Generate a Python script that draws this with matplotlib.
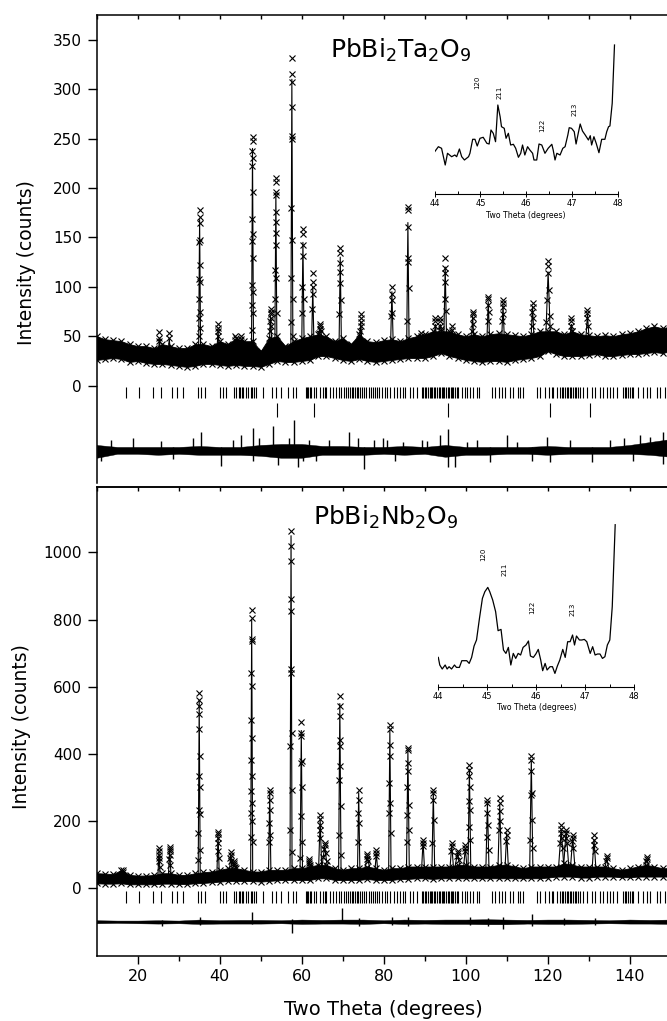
import matplotlib.pyplot as plt
import numpy as np

plt.rcParams["font.family"] = "DejaVu Sans"
plt.rcParams["mathtext.default"] = "regular"

# ---------------- PbBi2Ta2O9 (top panel) ----------------
bg_x = list(range(10, 151, 2))
ta_bg_hi = [50, 47, 46, 45, 42, 40, 40, 38, 42, 40, 38, 38, 42, 42, 40, 45, 42, 48,
            45, 45, 35, 48, 50, 40, 45, 48, 50, 52, 50, 45, 48, 42, 52, 45, 44, 46,
            47, 45, 48, 50, 52, 55, 55, 55, 52, 50, 52, 50, 52, 53, 52, 51, 50, 52,
            55, 55, 55, 52, 55, 52, 51, 50, 51, 50, 52, 53, 55, 58, 60, 58, 60]
ta_bg_lo = [26, 27, 28, 27, 24, 25, 23, 22, 22, 21, 20, 19, 20, 22, 22, 21, 20, 21,
            20, 20, 19, 22, 25, 24, 24, 25, 26, 30, 30, 28, 26, 25, 27, 25, 24, 25,
            26, 27, 28, 28, 28, 30, 33, 30, 28, 26, 25, 24, 25, 25, 24, 26, 27, 28,
            30, 35, 32, 30, 30, 30, 31, 32, 30, 30, 31, 32, 32, 33, 34, 33, 35]

ta_peak_pos = [25.3, 27.7, 35.1, 39.6, 43.7, 45.3, 48.0, 52.4, 53.7, 57.6, 60.3,
               62.7, 64.5, 69.4, 74.4, 82.0, 85.9, 89.0, 92.6, 93.8, 95.0, 96.7,
               101.7, 105.5, 109.1, 116.3, 120.1, 125.8, 129.7]
ta_peak_calc = [48, 48, 168, 57, 46, 46, 240, 70, 195, 310, 145, 100, 58, 130, 65,
                95, 165, 50, 62, 62, 120, 56, 70, 85, 82, 80, 115, 62, 72]
ta_peak_hw = [0.3, 0.3, 0.25, 0.3, 0.3, 0.3, 0.25, 0.4, 0.25, 0.25, 0.3, 0.3, 0.9,
              0.3, 0.35, 0.35, 0.3, 0.4, 0.4, 0.8, 0.35, 0.4, 0.4, 0.4, 0.4, 0.45,
              0.6, 0.6, 0.5]
ta_peak_obs = [
    [54, 48, 45], [53, 48],
    [178, 171, 165, 147, 145, 122, 108, 105, 88, 75, 68, 58, 50],
    [62, 58, 55, 50], [50, 46], [50, 47],
    [252, 248, 237, 230, 222, 196, 169, 153, 146, 129, 102, 95, 82, 73, 56],
    [78, 75, 72, 68, 65, 60, 55],
    [210, 206, 196, 193, 176, 166, 154, 142, 117, 109, 88, 73],
    [332, 315, 307, 282, 253, 250, 180, 147, 109, 88, 64, 50],
    [158, 153, 142, 131, 100, 88, 73],
    [114, 105, 100, 93, 78],
    [62, 60, 57, 55, 53],
    [139, 134, 124, 115, 104, 87, 72],
    [72, 68, 64, 60, 55],
    [100, 93, 87, 73, 70],
    [181, 178, 161, 129, 125, 99, 65],
    [53, 50, 48], [68, 65, 60], [68, 65, 60, 57],
    [129, 119, 114, 105, 88, 76],
    [60, 56],
    [75, 72, 68, 62, 55],
    [90, 88, 82, 75, 65],
    [87, 84, 80, 72, 65],
    [84, 80, 75, 68, 60],
    [126, 121, 114, 97, 87, 70, 64, 60],
    [68, 65, 60, 55],
    [77, 73, 68, 60],
]

res_x = list(range(10, 151, 5))
ta_res_hi = [-60, -62, -62, -62, -62, -61, -62, -62, -60, -59, -59, -61, -61, -62, -62,
             -61, -62, -60, -62, -62, -62, -62, -61, -62, -62, -62, -60, -57, -54]
ta_res_lo = [-73, -69, -69, -70, -69, -70, -70, -70, -71, -73, -73, -70, -70, -70, -69,
             -70, -69, -72, -70, -70, -69, -69, -70, -69, -69, -69, -69, -70, -72]
ta_spike_x = [11.0, 13.5, 18.8, 25.7, 28.5, 33.4, 35.4, 40.3, 43.2, 45.2, 48.0, 49.7,
              52.9, 54.1, 57.0, 58.2, 59.0, 60.2, 61.9, 63.5, 66.7, 71.6, 73.7, 75.3,
              77.7, 79.8, 80.7, 82.8, 84.8, 89.3, 90.5, 93.7, 95.8, 97.4, 100.2, 102.7,
              105.9, 110.0, 112.4, 116.1, 119.8, 120.6, 125.4, 130.7, 135.2, 138.5,
              140.9, 142.5, 145.0, 148.2]
ta_spike_top = [-62, -55, -53, -56, -62, -53, -47, -62, -55, -50, -43, -53, -41, -62,
                -53, -35, -62, -62, -55, -62, -55, -47, -53, -62, -55, -53, -55, -62,
                -57, -55, -56, -50, -44, -62, -57, -55, -62, -50, -57, -62, -52, -62,
                -55, -62, -55, -53, -62, -50, -52, -47]
ta_spike_bot = [-76, -68, -68, -68, -74, -68, -68, -81, -68, -68, -76, -68, -68, -80,
                -68, -72, -82, -76, -68, -76, -68, -68, -68, -84, -68, -68, -68, -76,
                -68, -68, -68, -68, -82, -82, -68, -68, -77, -68, -68, -76, -68, -77,
                -68, -77, -68, -68, -76, -68, -68, -79]

hkl_main = [17.1, 20.2, 23.7, 25.7, 28.4, 29.6, 31.0, 34.6, 35.4, 36.3, 40.1, 40.7,
            41.5, 43.6, 43.9, 44.6, 45.0, 45.4, 45.8, 46.4, 47.0, 47.6, 47.9, 48.3,
            48.9, 50.5, 52.8, 53.7, 55.0, 56.6, 57.8, 58.6, 61.0, 61.3, 61.6, 62.0,
            62.3, 63.0, 63.6, 64.4, 65.2, 65.6, 66.0, 66.8, 67.6, 68.4, 69.0, 69.6,
            70.2, 70.8, 71.4, 71.8, 72.2, 72.6, 73.0, 73.4, 73.8, 74.2, 74.6, 75.2,
            75.8, 76.3, 76.8, 77.3, 77.8, 78.3, 78.8, 79.6, 80.3, 80.8, 81.5, 82.4,
            83.2, 84.0, 84.6, 85.2, 86.3, 87.1, 88.2, 89.3, 89.7, 90.1, 90.4, 90.8,
            91.2, 91.5, 91.9, 92.3, 92.6, 93.0, 93.4, 93.7, 94.1, 94.5, 94.8, 95.2,
            95.6, 95.9, 96.3, 96.7, 97.0, 97.4, 97.8, 98.2, 99.0, 99.8, 100.4, 101.1,
            101.9, 102.7, 103.3, 106.3, 107.1, 108.0, 108.8, 109.6, 110.8, 111.6,
            112.8, 113.2, 113.9, 117.3, 118.1, 119.3, 120.2, 121.0, 121.4, 122.2,
            123.0, 123.4, 123.8, 124.2, 124.6, 125.0, 125.4, 125.8, 126.2, 126.6,
            127.0, 127.4, 127.9, 128.7, 129.5, 130.7, 131.5, 132.8, 133.6, 134.4,
            135.2, 136.0, 136.8, 138.4, 138.8, 139.2, 139.6, 140.0, 140.5, 140.9,
            142.1, 143.3, 144.1, 144.9, 146.6, 147.4, 148.6]
hkl_second = [53.9, 63.1, 95.6, 120.6, 130.4]

ta_in_x = [44.00, 44.08, 44.15, 44.23, 44.28, 44.37, 44.44, 44.48, 44.54, 44.59, 44.65,
           44.74, 44.77, 44.83, 44.88, 44.93, 44.99, 45.06, 45.14, 45.19, 45.23, 45.28,
           45.33, 45.38, 45.43, 45.46, 45.52, 45.56, 45.61, 45.66, 45.72, 45.77, 45.83,
           45.88, 45.92, 45.97, 46.03, 46.08, 46.14, 46.17, 46.23, 46.28, 46.34, 46.41,
           46.48, 46.56, 46.59, 46.63, 46.67, 46.74, 46.80, 46.85, 46.91, 46.94, 46.99,
           47.05, 47.09, 47.14, 47.18, 47.23, 47.29, 47.36, 47.40, 47.43, 47.48, 47.53,
           47.59, 47.65, 47.72, 47.76, 47.80, 47.83, 47.88, 47.93]
ta_in_y = [42.3, 47.3, 45.7, 29, 40.7, 37.3, 39, 37.3, 45, 37.3, 34, 37.3, 40.7, 54.7,
           54.7, 48, 55.7, 56.7, 50.7, 50, 64, 60.7, 52.3, 89, 77.3, 67.3, 65.7, 55.7,
           60.7, 49, 49.7, 45.7, 36.7, 40.7, 49, 39, 47.3, 44, 40.7, 34, 34, 50, 49,
           40.7, 45.7, 49.7, 44, 34, 40.7, 39, 45.7, 47.3, 59, 66.3, 65.7, 62.3, 50,
           61.3, 70, 63, 59, 54, 58.3, 49, 57.3, 50.7, 41.3, 54.7, 54.7, 62.3, 67.3, 68,
           90.7, 149]
ta_in_hkl = ["120", "211", "122", "213"]
ta_in_hkl_x = [44.93, 45.41, 46.34, 47.05]
ta_in_hkl_y = [112, 102, 69, 85]

# ---------------- PbBi2Nb2O9 (bottom panel) ----------------
nb_bg_hi = [45, 44, 42, 55, 40, 38, 38, 40, 45, 45, 40, 40, 45, 48, 50, 55, 60, 60,
            55, 50, 50, 55, 55, 55, 60, 60, 65, 70, 70, 60, 55, 60, 60, 65, 60, 55,
            60, 60, 65, 65, 65, 65, 65, 65, 70, 70, 65, 65, 65, 70, 70, 65, 60, 65,
            65, 65, 65, 75, 70, 65, 65, 65, 65, 60, 55, 60, 65, 70, 65, 60, 60]
nb_bg_lo = [15, 14, 14, 15, 12, 12, 12, 12, 14, 14, 13, 13, 15, 16, 18, 20, 22, 22,
            22, 22, 20, 22, 24, 25, 25, 25, 25, 30, 30, 25, 25, 25, 25, 28, 25, 25,
            25, 28, 28, 30, 30, 28, 30, 30, 30, 30, 30, 30, 30, 30, 30, 30, 30, 30,
            30, 32, 35, 35, 35, 32, 32, 35, 35, 35, 33, 33, 35, 35, 35, 35, 35]

nb_peak_pos = [16.4, 25.2, 27.8, 35.0, 39.6, 42.7, 43.6, 47.8, 52.2, 57.4, 59.9,
               61.8, 64.5, 65.6, 69.3, 73.9, 76.0, 78.2, 81.5, 85.9, 89.6, 92.1,
               96.6, 98.0, 99.9, 100.9, 105.3, 108.3, 110.0, 116.0, 123.3, 124.5,
               126.1, 131.3, 134.4, 144.2]
nb_peak_calc = [50, 110, 115, 560, 160, 100, 75, 800, 285, 1050, 470, 80, 205, 125,
                550, 285, 95, 105, 470, 410, 140, 285, 130, 105, 120, 355, 255, 250,
                165, 380, 175, 170, 150, 145, 90, 85]
nb_peak_hw = [0.3, 0.3, 0.35, 0.25, 0.3, 0.4, 0.8, 0.25, 0.3, 0.25, 0.3, 0.6, 0.4,
              0.8, 0.3, 0.3, 0.8, 0.4, 0.3, 0.35, 0.4, 0.35, 0.5, 0.8, 0.5, 0.35,
              0.4, 0.45, 0.45, 0.4, 0.7, 0.7, 0.6, 0.5, 0.6, 0.8]
nb_peak_obs = [
    [55, 50],
    [119, 110, 100, 90, 80, 65],
    [124, 118, 110, 100, 88, 70],
    [582, 560, 542, 520, 473, 393, 333, 303, 234, 220, 164, 114, 85],
    [169, 162, 150, 135, 110, 90],
    [109, 100, 90, 80],
    [80, 75, 70, 65],
    [828, 806, 741, 735, 642, 602, 502, 448, 383, 333, 289, 254, 224, 199, 154, 139],
    [294, 285, 264, 234, 194, 160, 139],
    [1063, 1020, 975, 861, 826, 652, 642, 463, 423, 294, 174, 109],
    [495, 463, 453, 378, 373, 303, 214, 139, 90],
    [88, 82, 75, 70],
    [219, 205, 190, 174, 150],
    [135, 128, 118, 105, 92, 80],
    [572, 542, 512, 443, 423, 363, 323, 244, 159, 100],
    [294, 264, 224, 194, 139],
    [102, 96, 88, 80],
    [114, 105, 95],
    [485, 473, 428, 393, 313, 254, 224, 164],
    [418, 411, 373, 348, 303, 249, 219, 174, 139],
    [144, 135, 125],
    [294, 284, 264, 204, 134],
    [134, 125, 110],
    [112, 105, 95, 85],
    [129, 120, 110],
    [366, 353, 333, 303, 259, 234, 184, 144],
    [264, 254, 224, 189, 154, 114],
    [269, 255, 230, 200, 175],
    [174, 160, 140],
    [393, 383, 348, 283, 278, 204, 144, 119],
    [189, 178, 165, 150, 135, 120],
    [175, 165, 150, 135],
    [159, 150, 140, 120],
    [159, 145, 130, 110],
    [97, 90, 80],
    [94, 88, 80],
]

nb_res_hi = [-95, -96, -96, -95, -96, -93, -95, -94, -94, -95, -93, -94, -93, -93, -95,
             -93, -94, -93, -93, -92, -93, -94, -93, -93, -94, -95, -93, -94, -93]
nb_res_lo = [-104, -103, -104, -105, -104, -106, -105, -105, -105, -104, -106, -105,
             -105, -106, -104, -106, -105, -106, -106, -107, -107, -105, -106, -106,
             -105, -104, -105, -105, -106]
nb_spike_x = [25.9, 35.2, 47.95, 57.7, 69.9, 74.0, 82.0, 86.0, 101.0, 105.5, 109.0,
              116.1, 124.0, 131.5]
nb_spike_top = [-95, -86, -71, -92, -60, -88, -85, -86, -84, -88, -86, -75, -88, -88]
nb_spike_bot = [-112, -110, -105, -134, -104, -112, -110, -112, -110, -112, -120, -112,
                -110, -110]

nb_in_x = [44.00, 44.03, 44.08, 44.14, 44.18, 44.22, 44.27, 44.33, 44.37, 44.43, 44.48,
           44.58, 44.63, 44.68, 44.73, 44.78, 44.84, 44.90, 44.95, 45.01, 45.05, 45.11,
           45.17, 45.22, 45.28, 45.33, 45.38, 45.43, 45.48, 45.53, 45.58, 45.63, 45.68,
           45.73, 45.79, 45.84, 45.88, 45.94, 45.99, 46.04, 46.09, 46.13, 46.18, 46.22,
           46.28, 46.33, 46.38, 46.43, 46.48, 46.54, 46.59, 46.64, 46.69, 46.74, 46.78,
           46.82, 46.88, 46.93, 46.98, 47.03, 47.10, 47.15, 47.20, 47.25, 47.30, 47.35,
           47.40, 47.45, 47.50, 47.55, 47.61]
nb_in_y = [29.3, 21.7, 17.7, 21.7, 17.7, 20, 17.7, 21.7, 19.3, 19.3, 26, 26, 23.3, 29.3,
           40.7, 46.7, 68.3, 88.3, 95, 99.3, 95, 86.7, 75, 56, 57.3, 36.7, 33.3, 39.3,
           21.7, 33.3, 28.3, 33.3, 31.7, 39.3, 41.7, 45.7, 30.7, 29.3, 32.7, 37.3, 26.7,
           16, 23.3, 16.7, 20, 20, 13.3, 20.7, 26.7, 37.3, 29.3, 45, 45, 51.7, 41.7,
           50.7, 46.7, 46.7, 47.3, 45, 33.3, 40, 31.7, 32.7, 32.7, 28.3, 30, 41.7, 46.7,
           80, 162]
nb_in_hkl = ["120", "211", "122", "213"]
nb_in_hkl_x = [44.91, 45.36, 45.92, 46.73]
nb_in_hkl_y = [132, 117, 79, 77]


def draw_pattern(ax, bg_hi, bg_lo, pos, calc, hw, obs, res_hi, res_lo,
                 sp_x, sp_top, sp_bot):
    mid = (np.array(bg_hi) + np.array(bg_lo)) / 2
    ax.fill_between(bg_x, bg_lo, bg_hi, color="black", lw=0.6)
    kw = dict(ls="none", marker="x", ms=4.2, mew=0.8, color="black")
    ax.plot(bg_x, bg_hi, **kw)
    ax.plot(bg_x, bg_lo, **kw)
    for p, c, w, hts in zip(pos, calc, hw, obs):
        base = np.interp(p, bg_x, mid)
        ax.plot([p - w, p, p + w], [base, c, base], color="black", lw=0.8)
        xs = []
        for i, h in enumerate(hts):
            frac = min(max((h - base) / (c - base), 0), 1)
            xs.append(p + w * (1 - frac) * (1 if i % 2 else -1))
        ax.plot(xs, hts, **kw)
    ax.fill_between(res_x, res_lo, res_hi, color="black", lw=0.3)
    ax.vlines(sp_x, sp_bot, sp_top, color="black", lw=1.0)


def draw_inset(rect, xs, ys, top, labels, lx, ly):
    ax = fig.add_axes(rect)
    ax.plot(xs, ys, color="black", lw=0.9)
    for t, x, y in zip(labels, lx, ly):
        ax.text(x, y, t, rotation=90, fontsize=5, ha="center", va="center")
    ax.set_xlim(44, 48)
    ax.set_ylim(0, top)
    ax.patch.set_alpha(0)
    for s in ("left", "right", "top"):
        ax.spines[s].set_visible(False)
    ax.spines["bottom"].set_linewidth(0.8)
    ax.set_yticks([])
    ax.set_xticks([44, 45, 46, 47, 48])
    ax.set_xticks(np.arange(44, 48.01, 0.5), minor=True)
    ax.tick_params(axis="x", which="major", direction="inout", length=4, width=0.7,
                   labelsize=6, pad=1.5)
    ax.tick_params(axis="x", which="minor", direction="in", length=2.5, width=0.7)
    ax.set_xlabel("Two Theta (degrees)", fontsize=5.6, labelpad=2)
    return ax


fig = plt.figure(figsize=(6.67, 10.21), dpi=100)
W, H = 667, 1021
ax_ta = fig.add_axes([96.7 / W, (H - 483) / H, 574 / W, 468 / H])
ax_nb = fig.add_axes([96.7 / W, (H - 955.5) / H, 574 / W, 468.5 / H])

draw_pattern(ax_ta, ta_bg_hi, ta_bg_lo, ta_peak_pos, ta_peak_calc, ta_peak_hw,
             ta_peak_obs, ta_res_hi, ta_res_lo, ta_spike_x, ta_spike_top, ta_spike_bot)
ax_ta.vlines(hkl_main, -13, -1, color="black", lw=0.8)
ax_ta.vlines(hkl_second, -32, -18, color="black", lw=0.8)

draw_pattern(ax_nb, nb_bg_hi, nb_bg_lo, nb_peak_pos, nb_peak_calc, nb_peak_hw,
             nb_peak_obs, nb_res_hi, nb_res_lo, nb_spike_x, nb_spike_top, nb_spike_bot)
ax_nb.vlines(hkl_main, -45, -8, color="black", lw=0.8)

for ax in (ax_ta, ax_nb):
    ax.set_xlim(10, 150)
    ax.spines["right"].set_visible(False)
    for s in ax.spines.values():
        s.set_linewidth(1.1)
    ax.tick_params(axis="y", direction="out", length=6.5, width=1, labelsize=11, pad=4)
    ax.set_ylabel("Intensity (counts)", fontsize=13.5)

ax_ta.set_ylim(-98.5, 375)
ax_ta.set_yticks(range(0, 351, 50))
ax_ta.spines["bottom"].set_visible(False)
ax_ta.xaxis.set_ticks_position("top")
ax_ta.set_xticks(range(10, 151, 10))
ax_ta.tick_params(axis="x", direction="in", length=3, width=1, labeltop=False)
ax_ta.yaxis.set_label_coords(-0.1066, 0.47)
ax_ta.text(0.53, 0.908, r"PbBi$_2$Ta$_2$O$_9$", transform=ax_ta.transAxes,
           fontsize=18, ha="center", va="baseline")

ax_nb.set_ylim(-200, 1195)
ax_nb.set_yticks(range(0, 1001, 200))
ax_nb.set_xticks(range(20, 141, 20))
ax_nb.set_xticks(range(30, 151, 20), minor=True)
ax_nb.tick_params(axis="x", which="major", direction="out", length=5.8, width=1,
                  labelsize=11.5, pad=4)
ax_nb.tick_params(axis="x", which="minor", direction="out", length=3.5, width=1)
ax_nb.set_xlabel("Two Theta (degrees)", fontsize=14)
ax_nb.xaxis.set_label_coords(0.5, -0.095)
ax_nb.xaxis.label.set_va("top")
ax_nb.yaxis.set_label_coords(-0.1153, 0.488)
sec = ax_nb.secondary_xaxis("top")
sec.set_xticks(range(10, 151, 10))
sec.tick_params(axis="x", direction="in", length=3, width=1, labeltop=False)
sec.spines["top"].set_linewidth(1.1)
ax_nb.text(0.504, 0.919, r"PbBi$_2$Nb$_2$O$_9$", transform=ax_nb.transAxes,
           fontsize=18, ha="center", va="baseline")

draw_inset([434.7 / W, (H - 194) / H, 183 / W, 155 / H], ta_in_x, ta_in_y, 155,
           ta_in_hkl, ta_in_hkl_x, ta_in_hkl_y)
draw_inset([438.3 / W, (H - 686.7) / H, 196 / W, 165 / H], nb_in_x, nb_in_y, 165,
           nb_in_hkl, nb_in_hkl_x, nb_in_hkl_y)

fig.savefig("out.png", dpi=100)
